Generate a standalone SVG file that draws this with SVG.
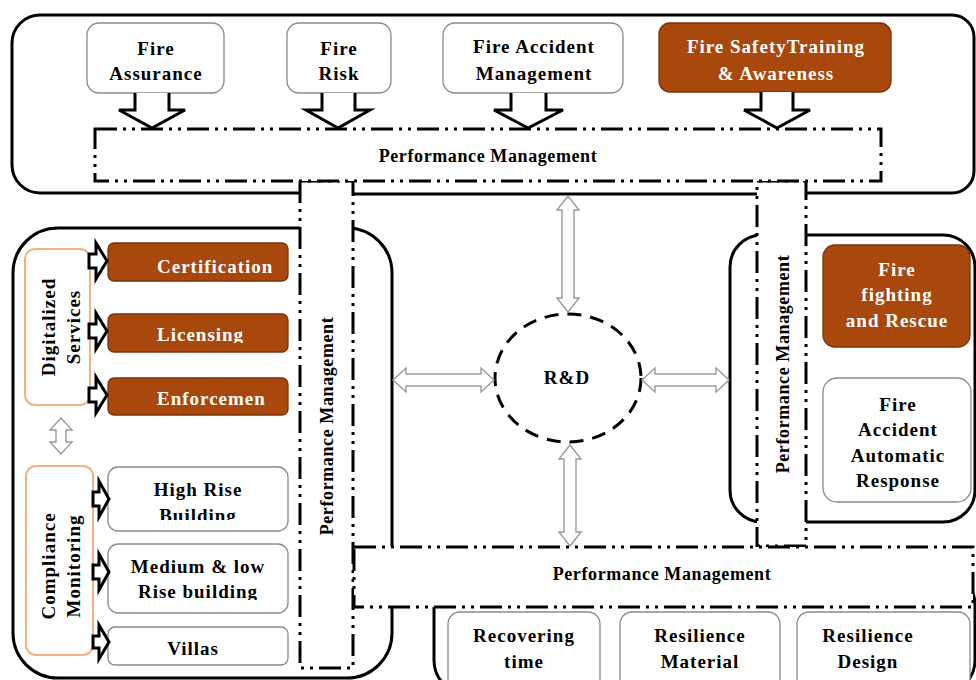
<svg xmlns="http://www.w3.org/2000/svg" width="976" height="680" viewBox="0 0 976 680">
<defs>
<style>
.reg{fill:none;stroke:#000;stroke-width:3}
.pm{fill:#fff;stroke:#000;stroke-width:3;stroke-dasharray:22 6 3 6 3 6}
.n{fill:#fff;stroke:#8a8a8a;stroke-width:1.3}
.b{fill:#A9480C;stroke:#7B3306;stroke-width:1.3}
.o{fill:#fff;stroke:#F4B183;stroke-width:2}
.t{font-family:"Liberation Serif","Times New Roman",serif;font-weight:bold;font-size:19px;letter-spacing:1px;fill:#000;text-anchor:middle}
.w{fill:#fff}
.pmt{font-family:"Liberation Serif","Times New Roman",serif;font-weight:bold;font-size:18px;letter-spacing:0.6px;fill:#000;text-anchor:middle}
.ba{fill:#fff;stroke:#000;stroke-width:3;stroke-linejoin:miter}
.ha{fill:#fff;stroke:#9a9a9a;stroke-width:1.4}
.rd{fill:#fff;stroke:#000;stroke-width:3;stroke-dasharray:14 9}
</style>
<clipPath id="cLic"><rect x="100" y="300" width="200" height="43"/></clipPath>
<clipPath id="cBld"><rect x="100" y="460" width="200" height="60"/></clipPath>
<clipPath id="cRb"><rect x="100" y="540" width="200" height="60"/></clipPath>
</defs>
<rect x="0" y="0" width="976" height="680" fill="#fff"/>

<g id="regions">
<path class="reg" d="M300 193 H40 A28 28 0 0 1 12 165 V43 A28 28 0 0 1 40 15 H952 A22 22 0 0 1 974 37 V171 A22 22 0 0 1 952 193 H806 M757 194 H353"/>
<rect class="reg" x="13" y="228" width="379" height="450" rx="45" ry="45"/>
<rect class="reg" x="730" y="235" width="245" height="287" rx="32" ry="32"/>
<rect class="reg" x="434" y="570" width="541" height="125" rx="35" ry="35"/>
</g>

<g id="pm-bars">
<rect id="pm-left" class="pm" x="300" y="181" width="53" height="487"/>
<rect id="pm-right" class="pm" x="757" y="181" width="49" height="365"/>
<rect id="pm-bottom" class="pm" x="354" y="547" width="619" height="60"/>
<rect id="pm-top" class="pm" x="95" y="129" width="786" height="52"/>
<text class="pmt" x="488" y="162">Performance Management</text>
<text class="pmt" transform="translate(333 426) rotate(-90)">Performance Management</text>
<text class="pmt" transform="translate(789 364) rotate(-90)">Performance Management</text>
<text class="pmt" x="662" y="580">Performance Management</text>
</g>

<g id="fire-assurance">
<rect class="n" x="87" y="23" width="137" height="70" rx="12"/>
<text class="t" x="156" y="55">Fire</text>
<text class="t" x="156" y="80">Assurance</text>
</g>
<g id="fire-risk">
<rect class="n" x="287" y="23" width="104" height="70" rx="12"/>
<text class="t" x="339" y="55">Fire</text>
<text class="t" x="339" y="80">Risk</text>
</g>
<g id="fire-accident-management">
<rect class="n" x="443" y="23" width="180" height="70" rx="12"/>
<text class="t" x="534" y="53">Fire Accident</text>
<text class="t" x="534" y="80">Management</text>
</g>
<g id="fire-safety-training">
<rect class="b" x="659" y="23" width="232" height="69" rx="11"/>
<text class="t w" x="776" y="53">Fire SafetyTraining</text>
<text class="t w" x="776" y="80">&amp; Awareness</text>
</g>

<g id="digitalized-services">
<rect class="o" x="25" y="249" width="65" height="156" rx="10"/>
<text class="t" transform="translate(55 327) rotate(-90)">Digitalized</text>
<text class="t" transform="translate(80 327) rotate(-90)">Services</text>
</g>
<g id="certification">
<rect class="b" x="108" y="243" width="180" height="38" rx="6"/>
<text class="t w" x="157" y="273" style="text-anchor:start">Certification</text>
</g>
<g id="licensing">
<rect class="b" x="108" y="314" width="180" height="38" rx="6"/>
<text class="t w" x="157" y="341" style="text-anchor:start" clip-path="url(#cLic)">Licensing</text>
</g>
<g id="enforcement">
<rect class="b" x="108" y="378" width="180" height="37" rx="6"/>
<text class="t w" x="157" y="405" style="text-anchor:start">Enforcemen</text>
</g>

<g id="compliance-monitoring">
<rect class="o" x="26" y="466" width="67" height="189" rx="10"/>
<text class="t" transform="translate(55 566) rotate(-90)">Compliance</text>
<text class="t" transform="translate(80 566) rotate(-90)">Monitoring</text>
</g>
<g id="high-rise">
<rect class="n" x="108" y="467" width="180" height="64" rx="10"/>
<text class="t" x="198" y="496">High Rise</text>
<text class="t" x="198" y="522" clip-path="url(#cBld)">Building</text>
</g>
<g id="medium-low-rise">
<rect class="n" x="108" y="544" width="180" height="69" rx="10"/>
<text class="t" x="198" y="573">Medium &amp; low</text>
<text class="t" x="198" y="598" clip-path="url(#cRb)">Rise building</text>
</g>
<g id="villas">
<rect class="n" x="108" y="627" width="180" height="38" rx="7"/>
<text class="t" x="193" y="655">Villas</text>
</g>

<g id="fire-fighting-rescue">
<rect class="b" x="823" y="245" width="147" height="102" rx="12"/>
<text class="t w" x="897" y="276">Fire</text>
<text class="t w" x="897" y="301">fighting</text>
<text class="t w" x="897" y="327">and Rescue</text>
</g>
<g id="fire-accident-automatic-response">
<rect class="n" x="823" y="378" width="148" height="124" rx="14"/>
<text class="t" x="898" y="411">Fire</text>
<text class="t" x="898" y="436">Accident</text>
<text class="t" x="898" y="462">Automatic</text>
<text class="t" x="898" y="487">Response</text>
</g>

<g id="rnd">
<ellipse class="rd" cx="568" cy="378" rx="73" ry="64"/>
<text class="t" x="567" y="384">R&amp;D</text>
</g>

<g id="recovering-time">
<rect class="n" x="448" y="612" width="152" height="80" rx="12"/>
<text class="t" x="524" y="642">Recovering</text>
<text class="t" x="524" y="668">time</text>
</g>
<g id="resilience-material">
<rect class="n" x="620" y="612" width="160" height="80" rx="12"/>
<text class="t" x="700" y="642">Resilience</text>
<text class="t" x="700" y="668">Material</text>
</g>
<g id="resilience-design">
<rect class="n" x="797" y="612" width="173" height="80" rx="12"/>
<text class="t" x="868" y="642">Resilience</text>
<text class="t" x="868" y="668">Design</text>
</g>

<g id="connectors">
<path class="ba" d="M135 93 V110 H119 L152 128 L185 110 H169 V93"/>
<path class="ba" d="M322 93 V110 H306 L338 128 L370 110 H355 V93"/>
<path class="ba" d="M511 93 V110 H494 L528 128 L563 110 H546 V93"/>
<path class="ba" d="M761 92 V110 H744 L777 128 L810 110 H793 V92"/>

<path class="ba" d="M89 254 H96 V243 L107 261 L96 279 V268 H89 Z"/>
<path class="ba" d="M89 324 H96 V313 L107 331 L96 349 V338 H89 Z"/>
<path class="ba" d="M89 388 H96 V377 L107 395 L96 413 V402 H89 Z"/>
<path class="ba" d="M93 492 H99 V481 L109 499 L99 517 V506 H93 Z"/>
<path class="ba" d="M93 565 H99 V554 L109 572 L99 590 V579 H93 Z"/>
<path class="ba" d="M93 636 H99 V625 L109 642 L99 659 V648 H93 Z"/>

<path class="ha" d="M61 418 L72 430 H66 V442 H72 L61 454 L50 442 H56 V430 H50 Z"/>
<path class="ha" d="M568 196 L579 210 H574 V298 H579 L568 312 L557 298 H562 V210 H557 Z"/>
<path class="ha" d="M570 445 L581 459 H576 V532 H581 L570 546 L559 532 H564 V459 H559 Z"/>
<path class="ha" d="M393 380 L406 368 V374 H481 V368 L494 380 L481 392 V386 H406 V392 Z"/>
<path class="ha" d="M642 380 L655 368 V374 H716 V368 L729 380 L716 392 V386 H655 V392 Z"/>
</g>
</svg>
